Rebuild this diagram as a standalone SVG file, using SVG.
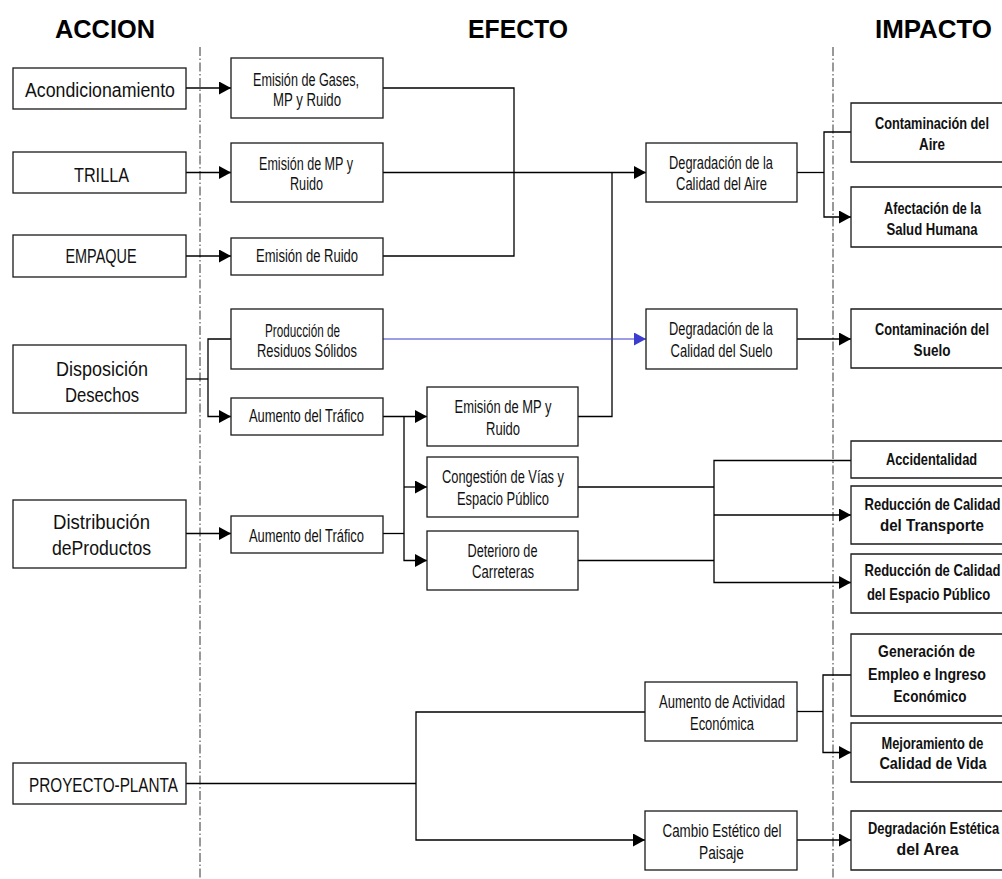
<svg xmlns="http://www.w3.org/2000/svg" width="1002" height="879" viewBox="0 0 1002 879">
  <style>
    .box { fill: #fff; stroke: #1a1a1a; stroke-width: 1.3; }
    text { font-family: "Liberation Sans", Arial, sans-serif; fill: #111; text-anchor: middle; }
    .tl { font-size: 20px; }
    .tm { font-size: 17.5px; }
    .tr { font-size: 16.5px; font-weight: bold; }
    .title { font-size: 25px; font-weight: bold; fill: #000; }
    .conn { fill: none; stroke: #000; stroke-width: 1.3; }
    .blue { stroke: #3c3cd0; stroke-width: 1.1; }
    .guide { fill: none; stroke: #333; stroke-width: 1; stroke-dasharray: 9 2.5 1.5 2.5; }
  </style>
  <defs>
    <marker id="arrow" markerUnits="userSpaceOnUse" markerWidth="13" markerHeight="14" refX="12" refY="6.5" orient="auto">
      <path d="M0,0 L12,6.5 L0,13 z" fill="#000"/>
    </marker>
    <marker id="arrowBlue" markerUnits="userSpaceOnUse" markerWidth="13" markerHeight="14" refX="12" refY="6.5" orient="auto">
      <path d="M0,0 L12,6.5 L0,13 z" fill="#3c3cd0"/>
    </marker>
  </defs>
  <rect width="1002" height="879" fill="#fff"/>

  <!-- column headings -->
  <g id="headings">
    <text class="title" x="105" y="38" textLength="100" lengthAdjust="spacingAndGlyphs">ACCION</text>
    <text class="title" x="518" y="38" textLength="100" lengthAdjust="spacingAndGlyphs">EFECTO</text>
    <text class="title" x="933.5" y="38" textLength="117" lengthAdjust="spacingAndGlyphs">IMPACTO</text>
  </g>

  <!-- column separators -->
  <g id="separators">
    <line class="guide" x1="200" y1="47" x2="200" y2="879"/>
    <line class="guide" x1="833" y1="47" x2="833" y2="879"/>
  </g>

  <!-- connectors -->
  <g id="connectors">
    <path class="conn" d="M186,88 H231" marker-end="url(#arrow)"/>
    <path class="conn" d="M186,172.5 H231" marker-end="url(#arrow)"/>
    <path class="conn" d="M186,256 H231" marker-end="url(#arrow)"/>
    <path class="conn" d="M383,88 H514 V256 H383"/>
    <path class="conn" d="M383,172.5 H646" marker-end="url(#arrow)"/>
    <path class="conn" d="M578,416.5 H612 V172.5"/>
    <path class="conn" d="M186,379 H208"/>
    <path class="conn" d="M231,339 H208 V416.5 H231" marker-start="url(#arrow)" marker-end="url(#arrow)"/>
    <path class="conn blue" d="M383,339 H646" marker-end="url(#arrowBlue)"/>
    <path class="conn" d="M383,416.5 H427" marker-end="url(#arrow)"/>
    <path class="conn" d="M404,416.5 V560.5 H427" marker-end="url(#arrow)"/>
    <path class="conn" d="M404,487 H427" marker-end="url(#arrow)"/>
    <path class="conn" d="M186,533.5 H231" marker-end="url(#arrow)"/>
    <path class="conn" d="M383,533.5 H404"/>
    <path class="conn" d="M578,487 H714"/>
    <path class="conn" d="M578,560.5 H714"/>
    <path class="conn" d="M851,460.5 H714 V582.5 H851" marker-start="url(#arrow)" marker-end="url(#arrow)"/>
    <path class="conn" d="M714,515 H851" marker-end="url(#arrow)"/>
    <path class="conn" d="M797,172.5 H824"/>
    <path class="conn" d="M851,132 H824 V217 H851" marker-start="url(#arrow)" marker-end="url(#arrow)"/>
    <path class="conn" d="M797,339 H851" marker-end="url(#arrow)"/>
    <path class="conn" d="M186,783.5 H416"/>
    <path class="conn" d="M645,712 H416 V840 H645" marker-start="url(#arrow)" marker-end="url(#arrow)"/>
    <path class="conn" d="M797,711.5 H823"/>
    <path class="conn" d="M851,675 H823 V752.5 H851" marker-start="url(#arrow)" marker-end="url(#arrow)"/>
    <path class="conn" d="M797,840 H851" marker-end="url(#arrow)"/>
  </g>

  <!-- actions -->
  <g id="n_acondicionamiento">
    <rect class="box" x="13" y="68" width="173" height="41"/>
    <text class="tl" x="100" y="97" textLength="150" lengthAdjust="spacingAndGlyphs">Acondicionamiento</text>
  </g>
  <g id="n_trilla">
    <rect class="box" x="13" y="152" width="173" height="41"/>
    <text class="tl" x="101.5" y="181.5" textLength="55" lengthAdjust="spacingAndGlyphs">TRILLA</text>
  </g>
  <g id="n_empaque">
    <rect class="box" x="13" y="235" width="173" height="42"/>
    <text class="tl" x="101" y="263" textLength="71" lengthAdjust="spacingAndGlyphs">EMPAQUE</text>
  </g>
  <g id="n_disposicion">
    <rect class="box" x="13" y="345" width="173" height="68"/>
    <text class="tl" x="102" y="376" textLength="92" lengthAdjust="spacingAndGlyphs">Disposición</text>
    <text class="tl" x="102" y="402" textLength="74" lengthAdjust="spacingAndGlyphs">Desechos</text>
  </g>
  <g id="n_distribucion">
    <rect class="box" x="13" y="500" width="173" height="68"/>
    <text class="tl" x="101.5" y="529" textLength="97" lengthAdjust="spacingAndGlyphs">Distribución</text>
    <text class="tl" x="101.5" y="555" textLength="99" lengthAdjust="spacingAndGlyphs">deProductos</text>
  </g>
  <g id="n_proyecto">
    <rect class="box" x="13" y="763" width="173" height="41"/>
    <text class="tl" x="103.5" y="792" textLength="149" lengthAdjust="spacingAndGlyphs">PROYECTO-PLANTA</text>
  </g>

  <!-- effects, first column -->
  <g id="e_gases">
    <rect class="box" x="231" y="58" width="152" height="60"/>
    <text class="tm" x="306" y="86" textLength="106" lengthAdjust="spacingAndGlyphs">Emisión de Gases,</text>
    <text class="tm" x="307" y="106" textLength="68" lengthAdjust="spacingAndGlyphs">MP y Ruido</text>
  </g>
  <g id="e_mp_ruido_1">
    <rect class="box" x="231" y="143" width="152" height="59"/>
    <text class="tm" x="306" y="170" textLength="94" lengthAdjust="spacingAndGlyphs">Emisión de MP y</text>
    <text class="tm" x="306.5" y="190" textLength="33" lengthAdjust="spacingAndGlyphs">Ruido</text>
  </g>
  <g id="e_ruido">
    <rect class="box" x="231" y="238" width="152" height="37"/>
    <text class="tm" x="307" y="262" textLength="102" lengthAdjust="spacingAndGlyphs">Emisión de Ruido</text>
  </g>
  <g id="e_residuos">
    <rect class="box" x="231" y="309" width="152" height="60"/>
    <text class="tm" x="302.5" y="337" textLength="75" lengthAdjust="spacingAndGlyphs">Producción de</text>
    <text class="tm" x="307" y="357" textLength="100" lengthAdjust="spacingAndGlyphs">Residuos Sólidos</text>
  </g>
  <g id="e_trafico_1">
    <rect class="box" x="231" y="398" width="152" height="37"/>
    <text class="tm" x="306.5" y="422" textLength="115" lengthAdjust="spacingAndGlyphs">Aumento del Tráfico</text>
  </g>
  <g id="e_trafico_2">
    <rect class="box" x="231" y="516" width="152" height="37"/>
    <text class="tm" x="306.5" y="542" textLength="115" lengthAdjust="spacingAndGlyphs">Aumento del Tráfico</text>
  </g>

  <!-- effects, second column -->
  <g id="e_mp_ruido_2">
    <rect class="box" x="427" y="387" width="151" height="59"/>
    <text class="tm" x="503" y="413" textLength="97" lengthAdjust="spacingAndGlyphs">Emisión de MP y</text>
    <text class="tm" x="503" y="435" textLength="34" lengthAdjust="spacingAndGlyphs">Ruido</text>
  </g>
  <g id="e_congestion">
    <rect class="box" x="427" y="457" width="151" height="60"/>
    <text class="tm" x="503" y="483" textLength="122" lengthAdjust="spacingAndGlyphs">Congestión de Vías y</text>
    <text class="tm" x="503" y="505" textLength="92" lengthAdjust="spacingAndGlyphs">Espacio Público</text>
  </g>
  <g id="e_deterioro">
    <rect class="box" x="427" y="531" width="151" height="59"/>
    <text class="tm" x="502.5" y="557" textLength="70" lengthAdjust="spacingAndGlyphs">Deterioro de</text>
    <text class="tm" x="503" y="577.5" textLength="62" lengthAdjust="spacingAndGlyphs">Carreteras</text>
  </g>

  <!-- effects, third column -->
  <g id="e_aire">
    <rect class="box" x="646" y="143" width="151" height="59"/>
    <text class="tm" x="721" y="168.5" textLength="104" lengthAdjust="spacingAndGlyphs">Degradación de la</text>
    <text class="tm" x="721.5" y="189.5" textLength="91" lengthAdjust="spacingAndGlyphs">Calidad del Aire</text>
  </g>
  <g id="e_suelo">
    <rect class="box" x="646" y="309" width="151" height="60"/>
    <text class="tm" x="721" y="335" textLength="104" lengthAdjust="spacingAndGlyphs">Degradación de la</text>
    <text class="tm" x="721.5" y="357" textLength="102" lengthAdjust="spacingAndGlyphs">Calidad del Suelo</text>
  </g>
  <g id="e_actividad">
    <rect class="box" x="645" y="682" width="152" height="59"/>
    <text class="tm" x="722" y="707.5" textLength="126" lengthAdjust="spacingAndGlyphs">Aumento de Actividad</text>
    <text class="tm" x="722" y="730" textLength="64" lengthAdjust="spacingAndGlyphs">Económica</text>
  </g>
  <g id="e_paisaje">
    <rect class="box" x="645" y="811" width="152" height="59"/>
    <text class="tm" x="722" y="837" textLength="119" lengthAdjust="spacingAndGlyphs">Cambio Estético del</text>
    <text class="tm" x="721.5" y="858.5" textLength="45" lengthAdjust="spacingAndGlyphs">Paisaje</text>
  </g>

  <!-- impacts (boxes run out past the right edge of the sheet; bold labels set narrow) -->
  <g id="i_aire">
    <path class="box" d="M1002,103 H851 V162 H1002"/>
    <text class="tr" transform="translate(932 128.5) scale(0.8 1)" textLength="142.5" lengthAdjust="spacingAndGlyphs">Contaminación del</text>
    <text class="tr" transform="translate(932 149.5) scale(0.8 1)" textLength="32.5" lengthAdjust="spacingAndGlyphs">Aire</text>
  </g>
  <g id="i_salud">
    <path class="box" d="M1002,187 H851 V247 H1002"/>
    <text class="tr" transform="translate(932.5 213.5) scale(0.8 1)" textLength="121" lengthAdjust="spacingAndGlyphs">Afectación de la</text>
    <text class="tr" transform="translate(932 235) scale(0.8 1)" textLength="114" lengthAdjust="spacingAndGlyphs">Salud Humana</text>
  </g>
  <g id="i_suelo">
    <path class="box" d="M1002,309 H851 V368 H1002"/>
    <text class="tr" transform="translate(932 335) scale(0.8 1)" textLength="142.5" lengthAdjust="spacingAndGlyphs">Contaminación del</text>
    <text class="tr" transform="translate(932 356) scale(0.8 1)" textLength="46" lengthAdjust="spacingAndGlyphs">Suelo</text>
  </g>
  <g id="i_accidentalidad">
    <path class="box" d="M1002,441 H851 V478 H1002"/>
    <text class="tr" transform="translate(931.5 465) scale(0.8 1)" textLength="114" lengthAdjust="spacingAndGlyphs">Accidentalidad</text>
  </g>
  <g id="i_transporte">
    <path class="box" d="M1002,486 H851 V544 H1002"/>
    <text class="tr" transform="translate(932.5 510) scale(0.8 1)" textLength="170" lengthAdjust="spacingAndGlyphs">Reducción de Calidad</text>
    <text class="tr" transform="translate(932 531) scale(0.8 1)" textLength="130" lengthAdjust="spacingAndGlyphs">del Transporte</text>
  </g>
  <g id="i_espacio">
    <path class="box" d="M1002,554 H851 V613 H1002"/>
    <text class="tr" transform="translate(932.5 576) scale(0.8 1)" textLength="170" lengthAdjust="spacingAndGlyphs">Reducción de Calidad</text>
    <text class="tr" transform="translate(928.5 600) scale(0.8 1)" textLength="154" lengthAdjust="spacingAndGlyphs">del Espacio Público</text>
  </g>
  <g id="i_empleo">
    <path class="box" d="M1002,634 H851 V716 H1002"/>
    <text class="tr" transform="translate(926.5 657) scale(0.8 1)" textLength="121" lengthAdjust="spacingAndGlyphs">Generación de</text>
    <text class="tr" transform="translate(927 679.5) scale(0.8 1)" textLength="147.5" lengthAdjust="spacingAndGlyphs">Empleo e Ingreso</text>
    <text class="tr" transform="translate(930 701.5) scale(0.8 1)" textLength="91" lengthAdjust="spacingAndGlyphs">Económico</text>
  </g>
  <g id="i_vida">
    <path class="box" d="M1002,723 H851 V782 H1002"/>
    <text class="tr" transform="translate(932.5 748.5) scale(0.8 1)" textLength="127.5" lengthAdjust="spacingAndGlyphs">Mejoramiento de</text>
    <text class="tr" transform="translate(933 768.5) scale(0.8 1)" textLength="134" lengthAdjust="spacingAndGlyphs">Calidad de Vida</text>
  </g>
  <g id="i_estetica">
    <path class="box" d="M1002,811 H851 V870 H1002"/>
    <text class="tr" transform="translate(933.5 833.5) scale(0.8 1)" textLength="164" lengthAdjust="spacingAndGlyphs">Degradación Estética</text>
    <text class="tr" transform="translate(927.5 855) scale(0.8 1)" textLength="77.5" lengthAdjust="spacingAndGlyphs">del Area</text>
  </g>
</svg>
